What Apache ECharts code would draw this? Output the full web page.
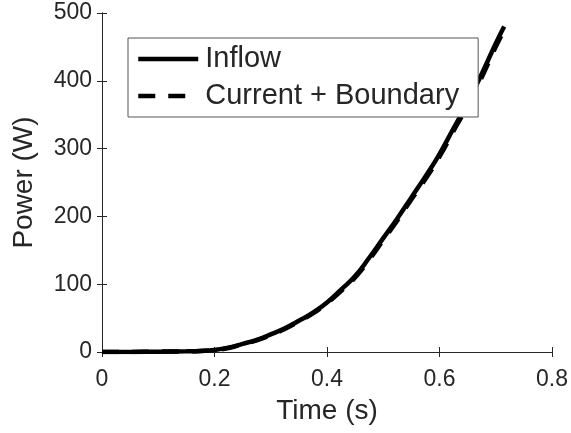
<!DOCTYPE html>
<html>
<head>
<meta charset="utf-8">
<script src="https://cdn.jsdelivr.net/npm/echarts@6/dist/echarts.min.js"></script>
<style>
  html, body { margin: 0; padding: 0; background: #fff; }
  #chart { width: 571px; height: 433px; }
</style>
</head>
<body>
<div id="chart"></div>
<script>
// values
const timeValues = [0, 0.05, 0.1, 0.15, 0.175, 0.2, 0.225, 0.25, 0.275, 0.3, 0.325, 0.35, 0.375, 0.4, 0.425, 0.45, 0.475, 0.5, 0.525, 0.55, 0.575, 0.6, 0.625, 0.65, 0.675, 0.7, 0.715]
const inflowPower = [0, 0, 0.5, 1, 1.5, 3, 6.5, 12, 18, 26, 35, 46, 58, 73, 92, 112, 139, 168, 197, 228, 259, 292, 330, 368, 410, 455, 480]
const currentBoundaryPower = [0, 0, 0.5, 1, 1.5, 2.5, 6, 11.5, 17, 25, 34, 45, 57, 72, 90, 110, 136, 165, 194, 225, 255, 288, 326, 363, 405, 450, 475]
const xTicks = [0, 0.2, 0.4, 0.6, 0.8]
const yTicks = [0, 100, 200, 300, 400, 500]

const pairs = (xs, ys) => xs.map((x, i) => [x, ys[i]])

const myChart = echarts.init(document.getElementById('chart'))
const textColor = '#262626'
const font = 'Liberation Sans'
const axisLine = { show: true, lineStyle: { color: '#262626', width: 1 } }
const tick = { inside: true, length: 5, lineStyle: { color: '#262626' } }

const option = {
  backgroundColor: '#fff',
  animation: false,
  grid: { left: 102, right: 19, top: 13, bottom: 81, show: false },
  legend: {
    orient: 'vertical',
    left: 128,
    top: 38,
    padding: [6, 19, 6, 8],
    itemGap: 7,
    itemWidth: 60,
    itemHeight: 4,
    itemStyle: { opacity: 0 },
    lineStyle: { width: 4.5 },
    backgroundColor: '#fff',
    borderColor: '#555',
    borderWidth: 1,
    textStyle: { fontSize: 29, lineHeight: 30, color: textColor, fontFamily: font, padding: [0, 0, 0, 2] },
    data: ['Inflow', 'Current + Boundary']
  },
  xAxis: [
    {
      type: 'value',
      min: 0,
      max: 0.8,
      interval: 0.2,
      name: 'Time (s)',
      nameLocation: 'middle',
      nameGap: 45,
      nameTextStyle: { fontSize: 28, color: textColor, fontFamily: font },
      axisLine: axisLine,
      axisTick: tick,
      axisLabel: {
        fontSize: 23, color: textColor, fontFamily: font, margin: 16,
        formatter: v => xTicks.includes(Math.round(v * 10) / 10) ? String(Math.round(v * 10) / 10) : ''
      },
      splitLine: { show: false }
    },
    {
      type: 'value',
      position: 'top',
      min: 0,
      max: 0.8,
      interval: 0.2,
      axisLine: axisLine,
      axisTick: tick,
      axisLabel: { show: false },
      splitLine: { show: false }
    }
  ],
  yAxis: [
    {
      type: 'value',
      min: 0,
      max: 500,
      interval: 100,
      name: 'Power (W)',
      nameLocation: 'middle',
      nameGap: 64,
      nameTextStyle: { fontSize: 28, color: textColor, fontFamily: font },
      axisLine: axisLine,
      axisTick: tick,
      axisLabel: {
        fontSize: 23, color: textColor, fontFamily: font, margin: 10,
        formatter: v => yTicks.includes(v) ? String(v) : ''
      },
      splitLine: { show: false }
    },
    {
      type: 'value',
      position: 'right',
      min: 0,
      max: 500,
      interval: 100,
      axisLine: axisLine,
      axisTick: tick,
      axisLabel: { show: false },
      splitLine: { show: false }
    }
  ],
  series: [
    {
      name: 'Inflow',
      type: 'line',
      smooth: true,
      symbol: 'none',
      lineStyle: { color: '#000', width: 4.5 },
      itemStyle: { color: '#000' },
      data: pairs(timeValues, inflowPower),
      z: 3
    },
    {
      name: 'Current + Boundary',
      type: 'line',
      smooth: true,
      symbol: 'none',
      lineStyle: { color: '#000', width: 4.5, type: [17, 13] },
      itemStyle: { color: '#000' },
      data: pairs(timeValues, currentBoundaryPower),
      z: 2
    }
  ]
}
myChart.setOption(option)
</script>
</body>
</html>
